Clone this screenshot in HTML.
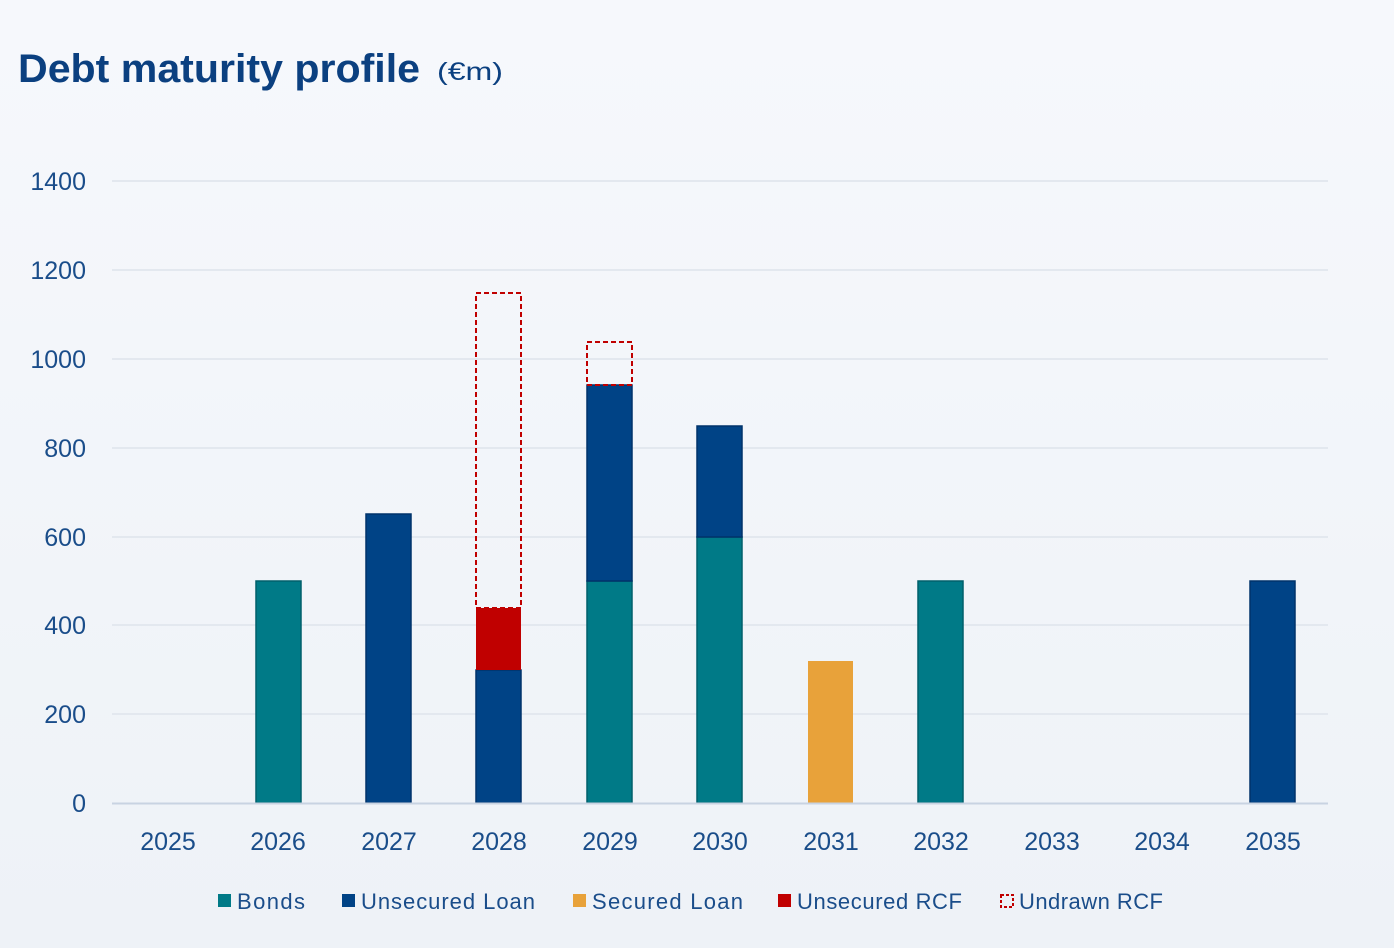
<!DOCTYPE html>
<html><head><meta charset="utf-8"><style>
html,body{margin:0;padding:0}
body{width:1394px;height:948px;background:linear-gradient(180deg,#f6f8fc 0%,#eef2f7 100%);font-family:"Liberation Sans",sans-serif;overflow:hidden}
svg{display:block}
</style></head><body>
<svg width="1394" height="948" xmlns="http://www.w3.org/2000/svg" font-family="Liberation Sans, sans-serif">
<text x="18" y="82" font-size="40" font-weight="bold" fill="#0b4080" textLength="402" lengthAdjust="spacingAndGlyphs">Debt maturity profile</text>
<text x="437" y="80" font-size="25" fill="#0b4080" textLength="66" lengthAdjust="spacingAndGlyphs">(€m)</text>
<g stroke="#e3e8ef" stroke-width="2">
<line x1="112" x2="1328" y1="181" y2="181"/><line x1="112" x2="1328" y1="270" y2="270"/>
<line x1="112" x2="1328" y1="359" y2="359"/><line x1="112" x2="1328" y1="448" y2="448"/>
<line x1="112" x2="1328" y1="537" y2="537"/><line x1="112" x2="1328" y1="625" y2="625"/>
<line x1="112" x2="1328" y1="714" y2="714"/>
</g>
<g font-size="25" fill="#1a4d8a" text-anchor="end">
<text x="86" y="190">1400</text><text x="86" y="279">1200</text><text x="86" y="368">1000</text>
<text x="86" y="457">800</text><text x="86" y="546">600</text><text x="86" y="634">400</text>
<text x="86" y="723">200</text><text x="86" y="812">0</text>
</g>
<g stroke-width="1.5">
<rect x="256" y="581" width="45" height="222" fill="#007a87" stroke="#005f6b"/>
<rect x="366" y="514" width="45" height="289" fill="#004386" stroke="#00336a"/>
<rect x="476" y="670" width="45" height="133" fill="#004386" stroke="#00336a"/>
<rect x="476" y="608" width="45" height="62" fill="#c00000"/>
<rect x="476" y="293" width="45" height="315" fill="none" stroke="#c00000" stroke-dasharray="5,3" stroke-width="2"/>
<rect x="587" y="581" width="45" height="222" fill="#007a87" stroke="#005f6b"/>
<rect x="587" y="385" width="45" height="196" fill="#004386" stroke="#00336a"/>
<rect x="587" y="342" width="45" height="43" fill="none" stroke="#c00000" stroke-dasharray="5,3" stroke-width="2"/>
<rect x="697" y="537" width="45" height="266" fill="#007a87" stroke="#005f6b"/>
<rect x="697" y="426" width="45" height="111" fill="#004386" stroke="#00336a"/>
<rect x="808" y="661" width="45" height="142" fill="#e8a23a"/>
<rect x="918" y="581" width="45" height="222" fill="#007a87" stroke="#005f6b"/>
<rect x="1250" y="581" width="45" height="222" fill="#004386" stroke="#00336a"/>
</g>
<line x1="112" x2="1328" y1="803.5" y2="803.5" stroke="#c8d3e2" stroke-width="2"/>
<g font-size="25" fill="#1a4d8a" text-anchor="middle">
<text x="168" y="850">2025</text><text x="278" y="850">2026</text><text x="389" y="850">2027</text>
<text x="499" y="850">2028</text><text x="610" y="850">2029</text><text x="720" y="850">2030</text>
<text x="831" y="850">2031</text><text x="941" y="850">2032</text><text x="1052" y="850">2033</text>
<text x="1162" y="850">2034</text><text x="1273" y="850">2035</text>
</g>
<g font-size="22" fill="#1a4d8a">
<rect x="218" y="894" width="13" height="13" fill="#007a87"/><text x="237" y="909" textLength="68" lengthAdjust="spacing">Bonds</text>
<rect x="342" y="894" width="13" height="13" fill="#004386"/><text x="361" y="909" textLength="174" lengthAdjust="spacing">Unsecured Loan</text>
<rect x="573" y="894" width="13" height="13" fill="#e8a23a"/><text x="592" y="909" textLength="151" lengthAdjust="spacing">Secured Loan</text>
<rect x="778" y="894" width="13" height="13" fill="#c00000"/><text x="797" y="909" textLength="165" lengthAdjust="spacing">Unsecured RCF</text>
<rect x="1001" y="895" width="12" height="12" fill="none" stroke="#c00000" stroke-width="2" stroke-dasharray="3,2"/><text x="1019" y="909" textLength="144" lengthAdjust="spacing">Undrawn RCF</text>
</g>
</svg>
</body></html>
